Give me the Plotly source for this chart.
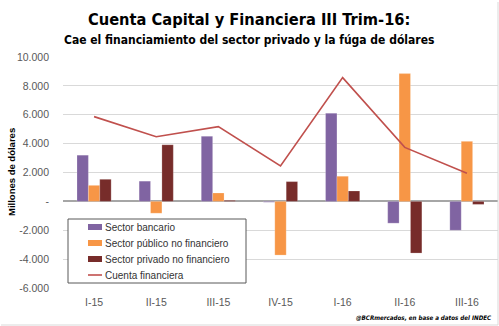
import plotly.graph_objects as go

# Quarterly capital & financial account flows (millions of USD)
trimestres = ["I-15", "II-15", "III-15", "IV-15", "I-16", "II-16", "III-16"]
sector_bancario = [3200, 1400, 4510, -60, 6110, -1510, -2000]
sector_publico = [1110, -820, 580, -3720, 1740, 8850, 4160]
sector_privado = [1530, 3920, 70, 1370, 720, -3580, -210]
cuenta_financiera = [5870, 4480, 5180, 2460, 8570, 3740, 1950]

y_tick_vals = [10000, 8000, 6000, 4000, 2000, 0, -2000, -4000, -6000]
y_tick_text = ["10.000", "8.000", "6.000", "4.000", "2.000", "-", "-2.000", "-4.000", "-6.000"]

NARROW = "DejaVu Sans Condensed, Liberation Sans Narrow, Arial Narrow, sans-serif"
BODY = "Liberation Sans, Arial, sans-serif"

COLORS = {
    "Sector bancario": "#8064A2",
    "Sector público no financiero": "#F79646",
    "Sector privado no financiero": "#772C2A",
    "Cuenta financiera": "#C0504D",
}

W, H = 499, 326
L, R, T, B = 63, 1, 57, 38
plot_w = W - L - R
plot_h = H - T - B


def px(x):
    """Pixel column -> paper x."""
    return (x - L) / plot_w


def py(y):
    """Pixel row -> paper y."""
    return (H - B - y) / plot_h


fig = go.Figure()
bar_line = dict(color="rgba(255,255,255,0.35)", width=0.6)
for name, vals in [("Sector bancario", sector_bancario),
                   ("Sector público no financiero", sector_publico),
                   ("Sector privado no financiero", sector_privado)]:
    fig.add_bar(x=trimestres, y=vals, name=name, showlegend=False,
                marker=dict(color=COLORS[name], line=bar_line))
fig.add_scatter(x=trimestres, y=cuenta_financiera, name="Cuenta financiera",
                mode="lines", showlegend=False,
                line=dict(color=COLORS["Cuenta financiera"], width=1.6))

# Boxed legend drawn inside the lower-left of the plot area
shapes = [dict(type="rect", xref="paper", yref="paper",
               x0=px(68), x1=px(246), y0=py(283), y1=py(219),
               fillcolor="white", line=dict(color="#595959", width=1), layer="above")]
annotations = []
legend_rows = [227, 243, 259, 275]
for (name, color), yrow in zip(COLORS.items(), legend_rows):
    if name == "Cuenta financiera":
        shapes.append(dict(type="line", xref="paper", yref="paper",
                           x0=px(88), x1=px(102), y0=py(yrow), y1=py(yrow),
                           line=dict(color=color, width=1.6), layer="above"))
    else:
        shapes.append(dict(type="rect", xref="paper", yref="paper",
                           x0=px(88), x1=px(102), y0=py(yrow + 3), y1=py(yrow - 3),
                           fillcolor=color, line=dict(width=0), layer="above"))
    annotations.append(dict(text=name, x=px(103), y=py(yrow), xref="paper", yref="paper",
                            xanchor="left", yanchor="middle", showarrow=False,
                            font=dict(family=BODY, size=10, color="#333333")))

annotations += [
    dict(text="<b>Cuenta Capital y Financiera III Trim-16:</b>",
         x=px(249), y=py(19), xref="paper", yref="paper",
         xanchor="center", yanchor="middle", showarrow=False,
         font=dict(family=NARROW, size=16.3, color="#000000")),
    dict(text="<b>Cae el financiamiento del sector privado y la fúga de dólares</b>",
         x=px(249), y=py(40), xref="paper", yref="paper",
         xanchor="center", yanchor="middle", showarrow=False,
         font=dict(family=NARROW, size=12, color="#000000")),
    dict(text="<b><i>@BCRmercados, en base a datos del INDEC</i></b>",
         x=px(494), y=py(318), xref="paper", yref="paper",
         xanchor="right", yanchor="middle", showarrow=False,
         font=dict(family=NARROW, size=6.2, color="#000000")),
    # Y axis title
    dict(text="<b>Millones de dólares</b>", textangle=-90,
         x=px(11), y=py(172), xref="paper", yref="paper",
         xanchor="center", yanchor="middle", showarrow=False,
         font=dict(family=BODY, size=9.5, color="#000000")),
]

# Light frame on the right and bottom edges
shapes += [
    dict(type="line", xref="paper", yref="paper",
         x0=px(498), x1=px(498), y0=py(325), y1=py(2),
         line=dict(color="#D9D9D9", width=1)),
    dict(type="line", xref="paper", yref="paper",
         x0=px(1), x1=px(498), y0=py(325), y1=py(325),
         line=dict(color="#D9D9D9", width=1)),
]

fig.update_layout(
    width=W, height=H,
    margin=dict(l=L, r=R, t=T, b=B),
    paper_bgcolor="white", plot_bgcolor="white",
    barmode="group", bargap=0.45, bargroupgap=0,
    font=dict(family=BODY, size=10, color="#595959"),
    showlegend=False,
    xaxis=dict(
        showgrid=False, zeroline=False, showline=False,
        ticks="", ticklabelstandoff=6,
        tickfont=dict(family=BODY, size=10.5, color="#595959"),
    ),
    yaxis=dict(
        range=[-6000, 10000],
        tickvals=y_tick_vals, ticktext=y_tick_text,
        showgrid=True, gridcolor="#D9D9D9", gridwidth=1,
        zeroline=True, zerolinecolor="#A6A6A6", zerolinewidth=1.5,
        ticks="", ticklabelstandoff=13,
        tickfont=dict(family=BODY, size=10.5, color="#595959"),
    ),
    annotations=annotations,
    shapes=shapes,
)

fig.write_html("out.html")
